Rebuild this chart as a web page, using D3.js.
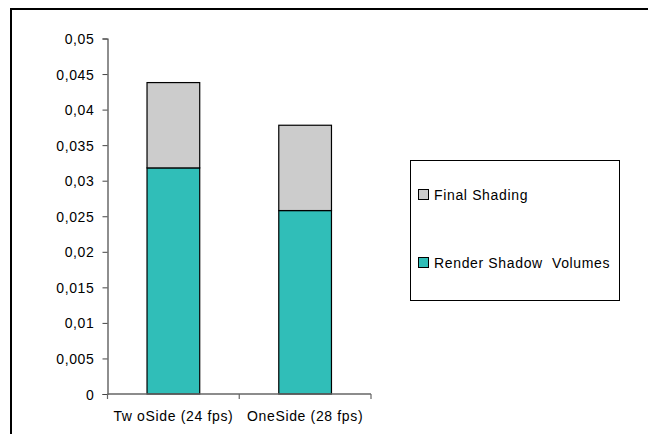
<!DOCTYPE html>
<html>
<head>
<meta charset="utf-8">
<script src="https://cdn.jsdelivr.net/npm/d3@7"></script>
<style>
  html, body { margin: 0; padding: 0; background: #fff; }
  svg { display: block; }
  text { font-family: "Liberation Sans", Arial, sans-serif; font-size: 14px; fill: #000; letter-spacing: 0.65px; white-space: pre; }
</style>
</head>
<body>
<svg id="chart" width="648" height="434"></svg>
<script>
// Frame time (seconds) per shadow-volume variant, split by rendering pass
const categories = ["Tw oSide (24 fps)", "OneSide (28 fps)"];
const seriesNames = ["Render Shadow  Volumes", "Final Shading"];
const renderShadowVolumes = [0.0318, 0.0258];
const finalShading = [0.0120, 0.0120];
const yTicks = [0, 0.005, 0.01, 0.015, 0.02, 0.025, 0.03, 0.035, 0.04, 0.045, 0.05];
const colors = ["#30beb8", "#cccccc"];

const svg = d3.select("#chart");

// outer chart border
svg.append("rect")
  .attr("x", 11).attr("y", 9)
  .attr("width", 700).attr("height", 500)
  .attr("fill", "none").attr("stroke", "#000").attr("stroke-width", 2);

const plot = { left: 107.5, right: 371, top: 38.5, bottom: 394 };

const x = d3.scaleBand()
  .domain(categories)
  .range([plot.left, plot.right])
  .paddingInner(0.6).paddingOuter(0.3);

const y = d3.scaleLinear().domain([0, 0.05]).range([plot.bottom, plot.top]);

const rows = categories.map((c, i) => ({
  category: c,
  render: renderShadowVolumes[i],
  final: finalShading[i]
}));
const stack = d3.stack().keys(["render", "final"])(rows);

// bars
svg.append("g").selectAll("g")
  .data(stack)
  .join("g")
  .attr("fill", (d, i) => colors[i])
  .selectAll("rect")
  .data(d => d)
  .join("rect")
  .attr("x", d => x(d.data.category))
  .attr("width", x.bandwidth())
  .attr("y", d => y(d[1]))
  .attr("height", d => y(d[0]) - y(d[1]))
  .attr("stroke", "#000")
  .attr("stroke-width", 1.2);

// y axis
const fmt = v => v === 0 ? "0" : String(+v.toFixed(3)).replace(".", ",");
const yAxis = svg.append("g")
  .attr("transform", `translate(${plot.left},0)`)
  .call(d3.axisLeft(y).tickValues(yTicks).tickFormat(fmt).tickSize(5).tickPadding(8));
yAxis.select(".domain").attr("stroke", "#444").attr("stroke-width", 1.2);
yAxis.selectAll(".tick line").attr("stroke", "#444");
yAxis.selectAll("text").style("font-size", "14px").attr("dy", "0.36em").attr("fill", "#000");

// x axis with ticks on category boundaries
const xAxis = svg.append("g")
  .attr("transform", `translate(0,${plot.bottom})`);
xAxis.append("line")
  .attr("x1", plot.left).attr("x2", plot.right)
  .attr("stroke", "#666").attr("stroke-width", 1.6);
const step = x.step();
const boundaries = d3.range(categories.length + 1).map(i => plot.left + i * (plot.right - plot.left) / categories.length);
xAxis.selectAll("line.tk")
  .data(boundaries)
  .join("line")
  .attr("class", "tk")
  .attr("x1", d => d).attr("x2", d => d)
  .attr("y1", 0).attr("y2", 5)
  .attr("stroke", "#666").attr("stroke-width", 1.2);
xAxis.selectAll("text")
  .data(categories)
  .join("text")
  .attr("x", d => x(d) + x.bandwidth() / 2)
  .attr("y", 27)
  .attr("text-anchor", "middle")
  .text(d => d);

// legend
const legend = svg.append("g");
legend.append("rect")
  .attr("x", 410.5).attr("y", 160.5)
  .attr("width", 209).attr("height", 140)
  .attr("fill", "#fff").attr("stroke", "#000").attr("stroke-width", 1);
const legendItems = [
  { name: seriesNames[1], color: colors[1], y: 194.5 },
  { name: seriesNames[0], color: colors[0], y: 262.5 }
];
const li = legend.selectAll("g.item")
  .data(legendItems)
  .join("g")
  .attr("class", "item")
  .attr("transform", d => `translate(0,${d.y})`);
li.append("rect")
  .attr("x", 418.5).attr("y", -5)
  .attr("width", 10).attr("height", 10)
  .attr("fill", d => d.color).attr("stroke", "#000").attr("stroke-width", 1);
li.append("text")
  .attr("x", 434).attr("y", 5.5)
  .text(d => d.name);
</script>
</body>
</html>
